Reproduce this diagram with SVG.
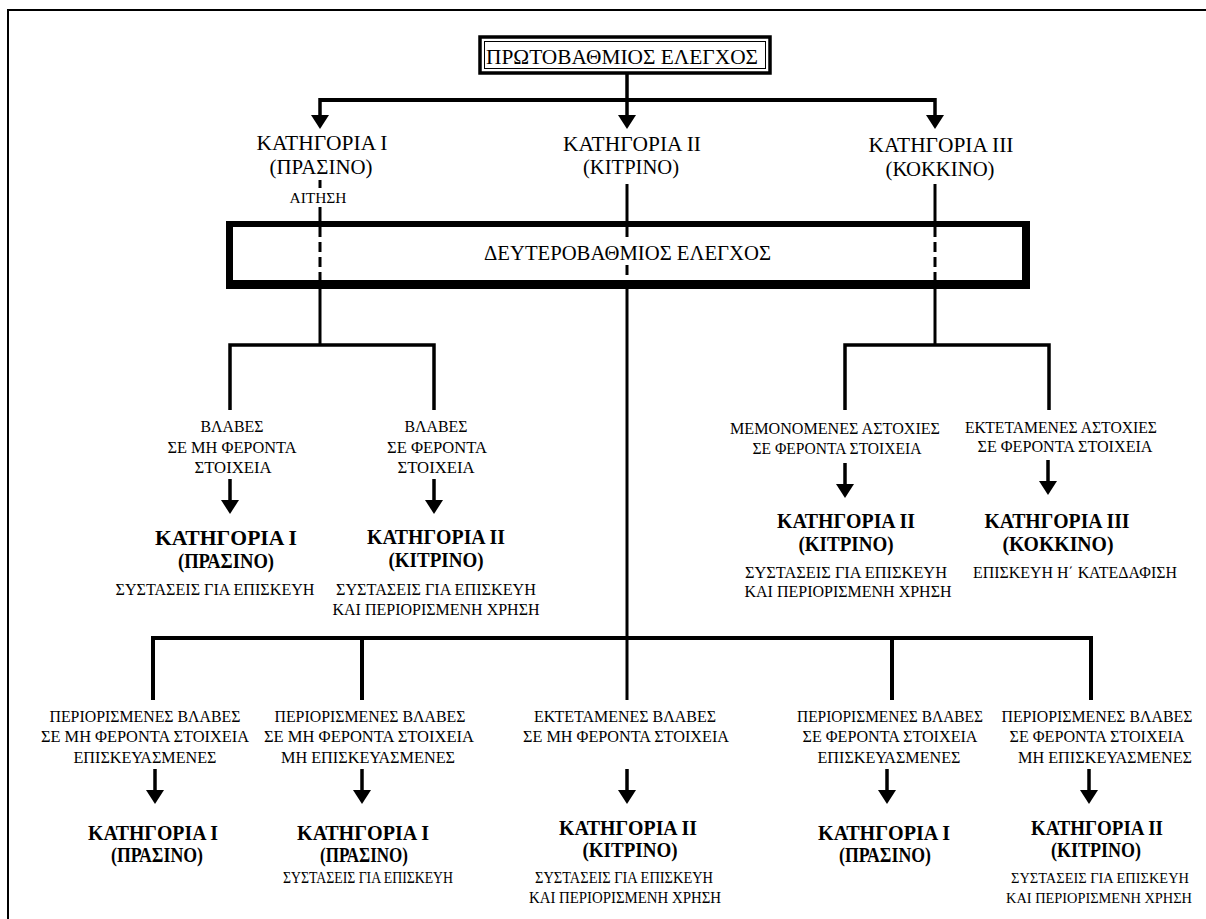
<svg xmlns="http://www.w3.org/2000/svg" width="1206" height="919" viewBox="0 0 1206 919">
<style>
text{font-family:"Liberation Serif","Times New Roman",serif;fill:#000;text-anchor:middle}
.big{font-size:22px}
.cat{font-size:22px}
.bcat{font-size:21px;font-weight:bold}
.bcat3{font-size:20px;font-weight:bold}
.sm{font-size:17px}
.xs{font-size:16px}
.xxs{font-size:15px}
.tiny{font-size:15px}
.ln{stroke:#000;stroke-width:3.5;fill:none}
.hl{stroke:#000;stroke-width:4;fill:none}
.ds{stroke:#000;stroke-width:3;fill:none;stroke-dasharray:10 5}
</style>
<defs>
<marker id="ah" markerUnits="userSpaceOnUse" markerWidth="14" markerHeight="18" viewBox="0 -9 14 18" refX="0" refY="0" orient="auto">
<path d="M0,-9 L14,0 L0,9 z" fill="#000"/>
</marker>
</defs>
<rect width="1206" height="919" fill="#fff"/>
<path d="M8,919 V10 H1206" fill="none" stroke="#000" stroke-width="2"/>

<g id="connectors">
<line class="ln" x1="627" y1="73" x2="627" y2="100"/>
<line class="hl" x1="320" y1="100" x2="935" y2="100"/>
<line class="ln" x1="320" y1="98" x2="320" y2="115" marker-end="url(#ah)"/>
<line class="ln" x1="627" y1="98" x2="627" y2="115" marker-end="url(#ah)"/>
<line class="ln" x1="935" y1="98" x2="935" y2="115" marker-end="url(#ah)"/>

<line stroke="#000" stroke-width="3" x1="320" y1="180" x2="320" y2="188"/>
<line stroke="#000" stroke-width="3" x1="320" y1="207" x2="320" y2="222"/>
<line class="ds" x1="320" y1="227" x2="320" y2="280"/>
<line stroke="#000" stroke-width="3" x1="320" y1="288" x2="320" y2="345"/>

<line stroke="#000" stroke-width="3" x1="627" y1="184" x2="627" y2="222"/>
<line class="ds" x1="627" y1="227" x2="627" y2="239"/>
<line class="ds" x1="627" y1="265" x2="627" y2="280"/>
<line stroke="#000" stroke-width="3" x1="627" y1="288" x2="627" y2="700"/>

<line stroke="#000" stroke-width="3" x1="935" y1="184" x2="935" y2="222"/>
<line class="ds" x1="935" y1="227" x2="935" y2="280"/>
<line stroke="#000" stroke-width="3" x1="935" y1="288" x2="935" y2="345"/>

<path class="ln" d="M230,410 V345 H434 V410"/>
<path class="ln" d="M845,410 V345 H1049 V410"/>
<line class="ln" x1="230" y1="479" x2="230" y2="500" marker-end="url(#ah)"/>
<line class="ln" x1="434" y1="479" x2="434" y2="500" marker-end="url(#ah)"/>
<line class="ln" x1="845" y1="463" x2="845" y2="484" marker-end="url(#ah)"/>
<line class="ln" x1="1048" y1="460" x2="1048" y2="481" marker-end="url(#ah)"/>

<path class="hl" d="M153,700 V638 H1091 V700"/>
<line class="hl" x1="362" y1="638" x2="362" y2="700"/>
<line class="hl" x1="892" y1="638" x2="892" y2="700"/>
<line class="ln" x1="155" y1="769" x2="155" y2="790" marker-end="url(#ah)"/>
<line class="ln" x1="362" y1="769" x2="362" y2="790" marker-end="url(#ah)"/>
<line class="ln" x1="627" y1="769" x2="627" y2="790" marker-end="url(#ah)"/>
<line class="ln" x1="887" y1="769" x2="887" y2="790" marker-end="url(#ah)"/>
<line class="ln" x1="1089" y1="769" x2="1089" y2="790" marker-end="url(#ah)"/>
</g>

<g id="primary">
<rect x="480" y="37" width="290" height="36" fill="#fff" stroke="#000" stroke-width="3.5"/>
<rect x="484.5" y="41.5" width="281" height="27" fill="none" stroke="#000" stroke-width="1"/>
<text class="big" x="622" y="64" textLength="272" lengthAdjust="spacingAndGlyphs">ΠΡΩΤΟΒΑΘΜΙΟΣ ΕΛΕΓΧΟΣ</text>
</g>

<g id="cat1">
<text class="cat" x="322" y="150" textLength="131" lengthAdjust="spacingAndGlyphs">ΚΑΤΗΓΟΡΙΑ Ι</text>
<text class="cat" x="321" y="174" textLength="103" lengthAdjust="spacingAndGlyphs">(ΠΡΑΣΙΝΟ)</text>
<text class="tiny" x="318" y="203" textLength="57" lengthAdjust="spacingAndGlyphs">ΑΙΤΗΣΗ</text>
</g>
<g id="cat2">
<text class="cat" x="632" y="151" textLength="138" lengthAdjust="spacingAndGlyphs">ΚΑΤΗΓΟΡΙΑ ΙΙ</text>
<text class="cat" x="631" y="174" textLength="96" lengthAdjust="spacingAndGlyphs">(ΚΙΤΡΙΝΟ)</text>
</g>
<g id="cat3">
<text class="cat" x="941" y="152" textLength="145" lengthAdjust="spacingAndGlyphs">ΚΑΤΗΓΟΡΙΑ ΙΙΙ</text>
<text class="cat" x="940" y="176" textLength="109" lengthAdjust="spacingAndGlyphs">(ΚΟΚΚΙΝΟ)</text>
</g>

<g id="secondary">
<path d="M226,221 H1030 V289 H226 Z M233,227 V280 H1022 V227 Z" fill="#000" fill-rule="evenodd"/>
<text class="cat" x="627.5" y="260" textLength="287" lengthAdjust="spacingAndGlyphs">ΔΕΥΤΕΡΟΒΑΘΜΙΟΣ ΕΛΕΓΧΟΣ</text>
</g>

<g id="branch-a1">
<text class="sm" x="232" y="432" textLength="63" lengthAdjust="spacingAndGlyphs">ΒΛΑΒΕΣ</text>
<text class="sm" x="232" y="453" textLength="129" lengthAdjust="spacingAndGlyphs">ΣΕ ΜΗ ΦΕΡΟΝΤΑ</text>
<text class="sm" x="233" y="473" textLength="77" lengthAdjust="spacingAndGlyphs">ΣΤΟΙΧΕΙΑ</text>
<text class="bcat" x="226" y="545" textLength="142" lengthAdjust="spacingAndGlyphs">ΚΑΤΗΓΟΡΙΑ Ι</text>
<text class="bcat" x="226" y="568" textLength="96" lengthAdjust="spacingAndGlyphs">(ΠΡΑΣΙΝΟ)</text>
<text class="sm" x="215" y="595" textLength="199" lengthAdjust="spacingAndGlyphs">ΣΥΣΤΑΣΕΙΣ ΓΙΑ ΕΠΙΣΚΕΥΗ</text>
</g>
<g id="branch-a2">
<text class="sm" x="436" y="432" textLength="63" lengthAdjust="spacingAndGlyphs">ΒΛΑΒΕΣ</text>
<text class="sm" x="437" y="453" textLength="100" lengthAdjust="spacingAndGlyphs">ΣΕ ΦΕΡΟΝΤΑ</text>
<text class="sm" x="436" y="473" textLength="77" lengthAdjust="spacingAndGlyphs">ΣΤΟΙΧΕΙΑ</text>
<text class="bcat" x="436" y="544" textLength="138" lengthAdjust="spacingAndGlyphs">ΚΑΤΗΓΟΡΙΑ ΙΙ</text>
<text class="bcat" x="436" y="567" textLength="95" lengthAdjust="spacingAndGlyphs">(ΚΙΤΡΙΝΟ)</text>
<text class="sm" x="436" y="595" textLength="200" lengthAdjust="spacingAndGlyphs">ΣΥΣΤΑΣΕΙΣ ΓΙΑ ΕΠΙΣΚΕΥΗ</text>
<text class="sm" x="436" y="615" textLength="207" lengthAdjust="spacingAndGlyphs">ΚΑΙ ΠΕΡΙΟΡΙΣΜΕΝΗ ΧΡΗΣΗ</text>
</g>
<g id="branch-c1">
<text class="sm" x="835" y="434" textLength="210" lengthAdjust="spacingAndGlyphs">ΜΕΜΟΝΟΜΕΝΕΣ ΑΣΤΟΧΙΕΣ</text>
<text class="sm" x="837" y="454" textLength="169" lengthAdjust="spacingAndGlyphs">ΣΕ ΦΕΡΟΝΤΑ ΣΤΟΙΧΕΙΑ</text>
<text class="bcat" x="846" y="528" textLength="138" lengthAdjust="spacingAndGlyphs">ΚΑΤΗΓΟΡΙΑ ΙΙ</text>
<text class="bcat" x="846" y="551" textLength="95" lengthAdjust="spacingAndGlyphs">(ΚΙΤΡΙΝΟ)</text>
<text class="sm" x="846" y="578" textLength="202" lengthAdjust="spacingAndGlyphs">ΣΥΣΤΑΣΕΙΣ ΓΙΑ ΕΠΙΣΚΕΥΗ</text>
<text class="sm" x="848" y="597" textLength="207" lengthAdjust="spacingAndGlyphs">ΚΑΙ ΠΕΡΙΟΡΙΣΜΕΝΗ ΧΡΗΣΗ</text>
</g>
<g id="branch-c2">
<text class="sm" x="1061" y="433" textLength="192" lengthAdjust="spacingAndGlyphs">ΕΚΤΕΤΑΜΕΝΕΣ ΑΣΤΟΧΙΕΣ</text>
<text class="sm" x="1065" y="452" textLength="175" lengthAdjust="spacingAndGlyphs">ΣΕ ΦΕΡΟΝΤΑ ΣΤΟΙΧΕΙΑ</text>
<text class="bcat" x="1057" y="528" textLength="145" lengthAdjust="spacingAndGlyphs">ΚΑΤΗΓΟΡΙΑ ΙΙΙ</text>
<text class="bcat" x="1058" y="551" textLength="111" lengthAdjust="spacingAndGlyphs">(ΚΟΚΚΙΝΟ)</text>
<text class="sm" x="1075" y="578" textLength="204" lengthAdjust="spacingAndGlyphs">ΕΠΙΣΚΕΥΗ Η΄ ΚΑΤΕΔΑΦΙΣΗ</text>
</g>

<g id="branch-b1">
<text class="sm" x="145" y="722" textLength="191" lengthAdjust="spacingAndGlyphs">ΠΕΡΙΟΡΙΣΜΕΝΕΣ ΒΛΑΒΕΣ</text>
<text class="sm" x="145" y="742" textLength="208" lengthAdjust="spacingAndGlyphs">ΣΕ ΜΗ ΦΕΡΟΝΤΑ ΣΤΟΙΧΕΙΑ</text>
<text class="sm" x="145" y="763" textLength="143" lengthAdjust="spacingAndGlyphs">ΕΠΙΣΚΕΥΑΣΜΕΝΕΣ</text>
<text class="bcat3" x="153" y="840" textLength="130" lengthAdjust="spacingAndGlyphs">ΚΑΤΗΓΟΡΙΑ Ι</text>
<text class="bcat3" x="157" y="862" textLength="92" lengthAdjust="spacingAndGlyphs">(ΠΡΑΣΙΝΟ)</text>
</g>
<g id="branch-b2">
<text class="sm" x="370" y="722" textLength="191" lengthAdjust="spacingAndGlyphs">ΠΕΡΙΟΡΙΣΜΕΝΕΣ ΒΛΑΒΕΣ</text>
<text class="sm" x="369" y="742" textLength="210" lengthAdjust="spacingAndGlyphs">ΣΕ ΜΗ ΦΕΡΟΝΤΑ ΣΤΟΙΧΕΙΑ</text>
<text class="sm" x="368" y="763" textLength="174" lengthAdjust="spacingAndGlyphs">ΜΗ ΕΠΙΣΚΕΥΑΣΜΕΝΕΣ</text>
<text class="bcat3" x="363" y="840" textLength="132" lengthAdjust="spacingAndGlyphs">ΚΑΤΗΓΟΡΙΑ Ι</text>
<text class="bcat3" x="364" y="862" textLength="88" lengthAdjust="spacingAndGlyphs">(ΠΡΑΣΙΝΟ)</text>
<text class="xs" x="368" y="883" textLength="170" lengthAdjust="spacingAndGlyphs">ΣΥΣΤΑΣΕΙΣ ΓΙΑ ΕΠΙΣΚΕΥΗ</text>
</g>
<g id="branch-b3">
<text class="sm" x="625" y="722" textLength="182" lengthAdjust="spacingAndGlyphs">ΕΚΤΕΤΑΜΕΝΕΣ ΒΛΑΒΕΣ</text>
<text class="sm" x="626" y="742" textLength="206" lengthAdjust="spacingAndGlyphs">ΣΕ ΜΗ ΦΕΡΟΝΤΑ ΣΤΟΙΧΕΙΑ</text>
<text class="bcat3" x="628" y="835" textLength="138" lengthAdjust="spacingAndGlyphs">ΚΑΤΗΓΟΡΙΑ ΙΙ</text>
<text class="bcat3" x="630" y="857" textLength="95" lengthAdjust="spacingAndGlyphs">(ΚΙΤΡΙΝΟ)</text>
<text class="xs" x="624" y="883" textLength="178" lengthAdjust="spacingAndGlyphs">ΣΥΣΤΑΣΕΙΣ ΓΙΑ ΕΠΙΣΚΕΥΗ</text>
<text class="xs" x="625" y="903" textLength="192" lengthAdjust="spacingAndGlyphs">ΚΑΙ ΠΕΡΙΟΡΙΣΜΕΝΗ ΧΡΗΣΗ</text>
</g>
<g id="branch-b4">
<text class="sm" x="890" y="722" textLength="186" lengthAdjust="spacingAndGlyphs">ΠΕΡΙΟΡΙΣΜΕΝΕΣ ΒΛΑΒΕΣ</text>
<text class="sm" x="890" y="742" textLength="175" lengthAdjust="spacingAndGlyphs">ΣΕ ΦΕΡΟΝΤΑ ΣΤΟΙΧΕΙΑ</text>
<text class="sm" x="889" y="763" textLength="143" lengthAdjust="spacingAndGlyphs">ΕΠΙΣΚΕΥΑΣΜΕΝΕΣ</text>
<text class="bcat3" x="884" y="840" textLength="132" lengthAdjust="spacingAndGlyphs">ΚΑΤΗΓΟΡΙΑ Ι</text>
<text class="bcat3" x="885" y="862" textLength="92" lengthAdjust="spacingAndGlyphs">(ΠΡΑΣΙΝΟ)</text>
</g>
<g id="branch-b5">
<text class="sm" x="1097" y="722" textLength="191" lengthAdjust="spacingAndGlyphs">ΠΕΡΙΟΡΙΣΜΕΝΕΣ ΒΛΑΒΕΣ</text>
<text class="sm" x="1097" y="742" textLength="175" lengthAdjust="spacingAndGlyphs">ΣΕ ΦΕΡΟΝΤΑ ΣΤΟΙΧΕΙΑ</text>
<text class="sm" x="1105" y="763" textLength="174" lengthAdjust="spacingAndGlyphs">ΜΗ ΕΠΙΣΚΕΥΑΣΜΕΝΕΣ</text>
<text class="bcat3" x="1097" y="835" textLength="132" lengthAdjust="spacingAndGlyphs">ΚΑΤΗΓΟΡΙΑ ΙΙ</text>
<text class="bcat3" x="1096" y="857" textLength="90" lengthAdjust="spacingAndGlyphs">(ΚΙΤΡΙΝΟ)</text>
<text class="xxs" x="1100" y="883" textLength="178" lengthAdjust="spacingAndGlyphs">ΣΥΣΤΑΣΕΙΣ ΓΙΑ ΕΠΙΣΚΕΥΗ</text>
<text class="xxs" x="1099" y="903" textLength="186" lengthAdjust="spacingAndGlyphs">ΚΑΙ ΠΕΡΙΟΡΙΣΜΕΝΗ ΧΡΗΣΗ</text>
</g>
</svg>
